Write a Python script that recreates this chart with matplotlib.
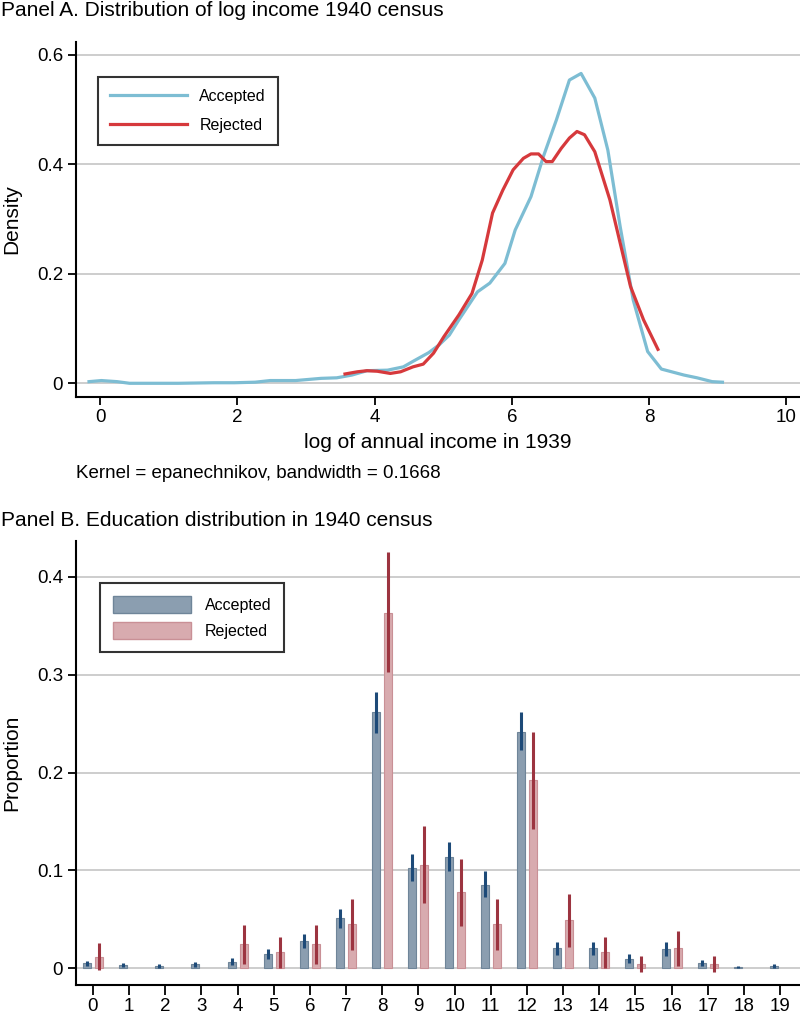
import numpy as np
import matplotlib
matplotlib.use("Agg")
import matplotlib.pyplot as plt
from matplotlib.patches import Patch
from matplotlib.lines import Line2D

plt.rcParams['font.family'] = ['Liberation Sans', 'DejaVu Sans']

# ---------------- Panel A data: kernel density of log income ----------------
acc_x = [-0.16, 0.02, 0.25, 0.43, 1.14, 1.66, 1.96, 2.26, 2.48, 2.85, 3.22, 3.45,
         3.67, 3.89, 4.19, 4.42, 4.56, 4.79, 4.94, 5.09, 5.23, 5.50, 5.68, 5.90,
         6.05, 6.28, 6.46, 6.65, 6.84, 7.01, 7.21, 7.40, 7.58, 7.77, 7.98, 8.18,
         8.51, 8.70, 8.92, 9.07]
acc_y = [0.003, 0.005, 0.003, 0.0, 0.0, 0.001, 0.001, 0.002, 0.005, 0.005, 0.009, 0.010,
         0.015, 0.023, 0.024, 0.030, 0.040, 0.056, 0.070, 0.088, 0.116, 0.167, 0.183, 0.219,
         0.280, 0.341, 0.414, 0.481, 0.554, 0.566, 0.521, 0.426, 0.286, 0.152, 0.058, 0.026,
         0.015, 0.010, 0.003, 0.002]
rej_x = [3.57, 3.75, 3.89, 4.04, 4.23, 4.38, 4.56, 4.71, 4.86, 5.01, 5.23, 5.42,
         5.57, 5.72, 5.87, 6.02, 6.17, 6.28, 6.39, 6.50, 6.59, 6.72, 6.84, 6.95,
         7.06, 7.21, 7.43, 7.58, 7.73, 7.92, 8.13]
rej_y = [0.017, 0.021, 0.023, 0.022, 0.018, 0.021, 0.030, 0.035, 0.055, 0.085, 0.125, 0.164,
         0.225, 0.311, 0.353, 0.390, 0.411, 0.419, 0.419, 0.405, 0.405, 0.429, 0.448, 0.460,
         0.454, 0.423, 0.335, 0.256, 0.177, 0.116, 0.062]

# ---------------- Panel B data: education distribution ----------------
edu_years = list(range(20))
acc_prop = [0.005, 0.003, 0.002, 0.004, 0.007, 0.015, 0.028, 0.051, 0.262, 0.103,
            0.114, 0.085, 0.242, 0.021, 0.021, 0.010, 0.020, 0.005, 0.001, 0.002]
acc_lo = [0.002, 0.001, 0.000, 0.001, 0.003, 0.010, 0.021, 0.041, 0.241, 0.089,
          0.099, 0.073, 0.223, 0.014, 0.014, 0.005, 0.013, 0.002, 0.000, 0.000]
acc_hi = [0.008, 0.005, 0.004, 0.007, 0.011, 0.020, 0.035, 0.061, 0.282, 0.117,
          0.129, 0.099, 0.262, 0.027, 0.027, 0.015, 0.027, 0.009, 0.002, 0.004]
rej_years = [0, 4, 5, 6, 7, 8, 9, 10, 11, 12, 13, 14, 15, 16, 17]
rej_prop = [0.012, 0.025, 0.017, 0.025, 0.045, 0.363, 0.106, 0.078, 0.045, 0.192,
            0.049, 0.017, 0.004, 0.021, 0.004]
rej_lo = [-0.002, 0.004, 0.000, 0.004, 0.019, 0.303, 0.067, 0.043, 0.019, 0.142,
          0.022, 0.000, -0.004, 0.002, -0.004]
rej_hi = [0.026, 0.044, 0.032, 0.044, 0.071, 0.425, 0.145, 0.112, 0.071, 0.242,
          0.076, 0.032, 0.013, 0.038, 0.013]

BLUE_LINE = '#7dbdd3'
RED_LINE = '#d6393c'
ACC_BAR = '#8b9eb0'
ACC_EDGE = '#6f8599'
ACC_ERR = '#1d4a78'
REJ_BAR = '#d8abaf'
REJ_EDGE = '#c99096'
REJ_ERR = '#9c3440'
GRID = '#c9c9c9'

W, H = 800, 1013
fig = plt.figure(figsize=(W / 100, H / 100), dpi=100)


def style_axes(ax):
    for s in ['top', 'right']:
        ax.spines[s].set_visible(False)
    for s in ['left', 'bottom']:
        ax.spines[s].set_linewidth(1.5)
        ax.spines[s].set_color('black')
    ax.tick_params(axis='both', direction='out', length=6, width=1.3,
                   labelsize=13.5, pad=3, colors='black')
    ax.yaxis.grid(True, color=GRID, linewidth=1.3)
    ax.set_axisbelow(True)


# ---------------- Panel A ----------------
axA = fig.add_axes([75.5 / W, 1 - 396.7 / H, 1 - 75.5 / W, (396.7 - 41.7) / H])
style_axes(axA)
axA.plot(acc_x, acc_y, color=BLUE_LINE, lw=2.3, solid_joinstyle='round')
axA.plot(rej_x, rej_y, color=RED_LINE, lw=2.3, solid_joinstyle='round')
axA.set_xlim(-0.357, 10.2)
axA.set_ylim(-0.0245, 0.624)
axA.set_xticks([0, 2, 4, 6, 8, 10])
axA.set_yticks([0, 0.2, 0.4, 0.6])
axA.set_yticklabels(['0', '0.2', '0.4', '0.6'])
axA.set_xlabel('log of annual income in 1939', fontsize=15, labelpad=5)
axA.set_ylabel('Density', fontsize=15)
axA.yaxis.set_label_coords(-0.075, 0.5)
legA = axA.legend(handles=[Line2D([], [], color=BLUE_LINE, lw=2.3),
                           Line2D([], [], color=RED_LINE, lw=2.3)],
                  labels=['Accepted', 'Rejected'],
                  loc='upper left', bbox_to_anchor=(98 / W, 1 - 76.7 / H),
                  bbox_transform=fig.transFigure, fontsize=11.5, frameon=True,
                  fancybox=False, edgecolor='black', handlelength=4.8,
                  handletextpad=0.8, labelspacing=0.9, borderpad=0.75,
                  borderaxespad=0)
legA.get_frame().set_linewidth(1.5)

fig.text(76 / W, 1 - 473 / H, 'Kernel = epanechnikov, bandwidth = 0.1668',
         fontsize=13.5, ha='left', va='center')
fig.text(1 / W, 1 - 11 / H, 'Panel A. Distribution of log income 1940 census',
         fontsize=15, ha='left', va='center')

# ---------------- Panel B ----------------
axB = fig.add_axes([75.5 / W, 1 - 985 / H, 1 - 75.5 / W, (985 - 540.7) / H])
style_axes(axB)
off = 0.166
bw = 0.22
xa = np.array(edu_years) - off
xr = np.array(rej_years) + off
axB.bar(xa, acc_prop, width=bw, color=ACC_BAR, edgecolor=ACC_EDGE, linewidth=0.8, zorder=2)
axB.bar(xr, rej_prop, width=bw, color=REJ_BAR, edgecolor=REJ_EDGE, linewidth=0.8, zorder=2)
axB.vlines(xa, acc_lo, acc_hi, color=ACC_ERR, lw=2.2, zorder=3)
axB.vlines(xr, rej_lo, rej_hi, color=REJ_ERR, lw=2.2, zorder=3)
axB.set_xlim(-0.48, 19.55)
axB.set_ylim(-0.017, 0.437)
axB.set_xticks(edu_years)
axB.set_yticks([0, 0.1, 0.2, 0.3, 0.4])
axB.set_yticklabels(['0', '0.1', '0.2', '0.3', '0.4'])
axB.tick_params(axis='x', length=7, pad=2)
axB.set_ylabel('Proportion', fontsize=15)
axB.yaxis.set_label_coords(-0.075, 0.5)
legB = axB.legend(handles=[Patch(facecolor=ACC_BAR, edgecolor=ACC_EDGE),
                           Patch(facecolor=REJ_BAR, edgecolor=REJ_EDGE)],
                  labels=['Accepted', 'Rejected'],
                  loc='upper left', bbox_to_anchor=(100 / W, 1 - 583 / H),
                  bbox_transform=fig.transFigure, fontsize=11.5, frameon=True,
                  fancybox=False, edgecolor='black', handlelength=4.9,
                  handleheight=1.3, handletextpad=0.85, labelspacing=0.53,
                  borderpad=0.8, borderaxespad=0)
legB.get_frame().set_linewidth(1.5)

fig.text(1 / W, 1 - 520 / H, 'Panel B. Education distribution in 1940 census',
         fontsize=15, ha='left', va='center')

fig.savefig('out.png', dpi=100)
